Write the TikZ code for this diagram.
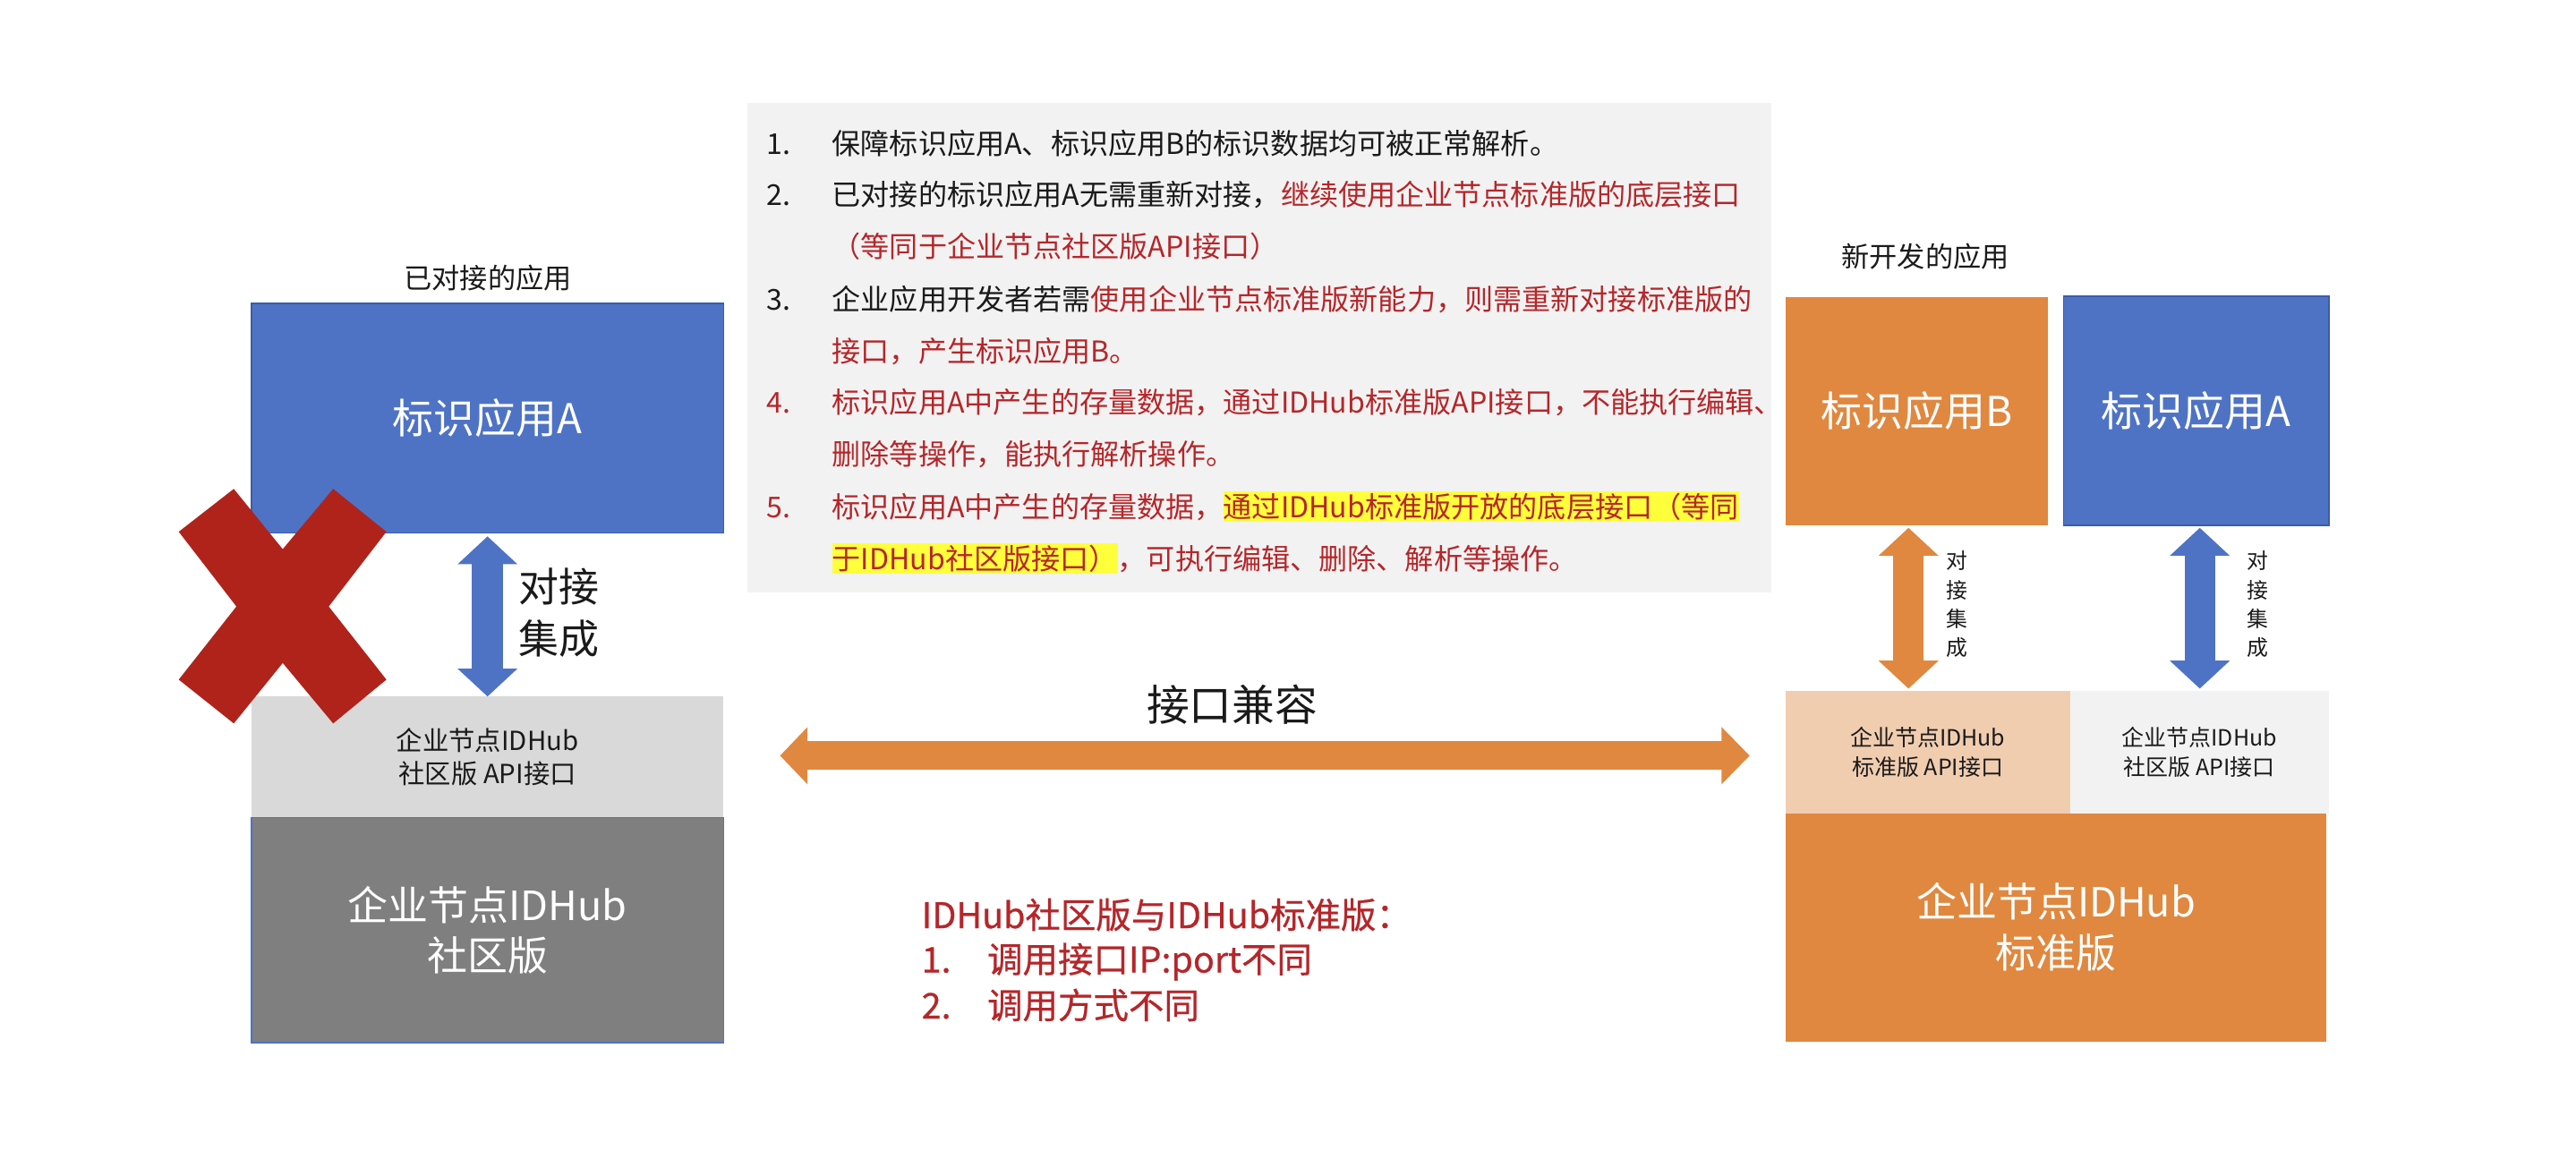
\documentclass[tikz,border=0pt]{standalone}
\usepackage{fontspec}
\setmainfont{Noto Sans CJK SC}
\newfontfamily\semibold[FakeBold=0.6]{Noto Sans CJK SC}
\usetikzlibrary{arrows.meta}
\definecolor{cblue}{HTML}{4F73C4}
\definecolor{cblueb}{HTML}{3A5DA8}
\definecolor{corange}{HTML}{E0883F}
\definecolor{cpeach}{HTML}{F1CDB0}
\definecolor{cgrayL}{HTML}{D9D9D9}
\definecolor{cgrayXL}{HTML}{F2F2F2}
\definecolor{cgrayD}{HTML}{7F7F7F}
\definecolor{cred}{HTML}{B5262A}
\definecolor{cxred}{HTML}{B0231B}
\definecolor{ctext}{HTML}{1A1A1A}
\definecolor{chl}{HTML}{FFFF3C}
\newcommand{\fsz}[2]{\fontsize{#1}{#2}\selectfont}
\begin{document}
\begin{tikzpicture}[x=1pt,y=-1pt,
  every node/.style={inner sep=0pt,outer sep=0pt},
  appbox/.style={text=white,font=\fsz{25}{30}},
  hubbox/.style={text=white,font=\fsz{24.5}{31},align=center},
  apismall/.style={text=ctext,font=\fsz{16}{20.5},align=center},
  apitiny/.style={text=ctext,font=\fsz{13.6}{17.6},align=center},
  vlabel/.style={text=ctext,font=\fsz{13}{17.6},align=center},
  tl/.style={anchor=base west,text=ctext,font=\fsz{17.5}{21}},
  tr/.style={anchor=base west,text=cred,font=\fsz{17.5}{21}},
  hl/.style={anchor=base west,text=cred,font=\fsz{17.5}{21},fill=chl,inner ysep=0.8pt},
  bt/.style={anchor=base west,text=cred,font=\semibold\fsz{21.5}{26}},
  dblv/.style={line width=#1,{Triangle[length=17pt,width=35.5pt]}-{Triangle[length=17pt,width=35.5pt]}},
]
\useasboundingbox (0,0) rectangle (1568,705);
\fill[white] (0,0) rectangle (1568,705);

% ---------- left column ----------
\node[font=\fsz{17}{20},text=ctext] (lblL) at (297,169) {已对接的应用};
\node[appbox,fill=cblue,draw=cblueb,line width=0.8pt,minimum width=287.3pt,minimum height=139.5pt] (A1) at (296.75,254.55) {标识应用A};
\node[apismall,fill=cgrayL,minimum width=287.3pt,minimum height=73.7pt] (apiL) at (296.75,460.85) {企业节点IDHub\\社区版 API接口};
\node[hubbox,fill=cgrayD,draw=cblue,line width=0.8pt,minimum width=287.3pt,minimum height=137.1pt] (hubL) at (296.75,566.25) {企业节点IDHub\\社区版};

\draw[dblv=18.8pt,draw=cblue,fill=cblue,shorten <=2.2pt] (A1.south) -- (apiL.north);
\node[font=\fsz{24.5}{31.4},align=left,text=ctext] (djL) at (340.2,372.9) {对接\\集成};

% red cross
\fill[cxred] (108.8,323.7) -- (142.3,297.6) -- (172.1,334.3) -- (202.8,297.6) -- (235.2,323.7)
  -- (200.1,369.2) -- (235.2,413.7) -- (202.8,440.4) -- (172.1,403.6) -- (142.3,440.4)
  -- (108.8,413.7) -- (143.9,369.2) -- cycle;

% ---------- right column ----------
\node[font=\fsz{17}{20},text=ctext] (lblR) at (1172,156) {新开发的应用};
\node[appbox,fill=corange,minimum width=159.8pt,minimum height=138.7pt] (B) at (1166.9,250.35) {标识应用B};
\node[appbox,fill=cblue,draw=cblueb,line width=0.8pt,minimum width=161.6pt,minimum height=139.4pt] (A2) at (1336.8,250) {标识应用A};
\node[apitiny,fill=cpeach,minimum width=172.9pt,minimum height=74.2pt] (apiS) at (1173.45,457.9) {企业节点IDHub\\标准版 API接口};
\node[apitiny,fill=cgrayXL,minimum width=157.7pt,minimum height=74.2pt] (apiR) at (1338.75,457.9) {企业节点IDHub\\社区版 API接口};
\node[hubbox,fill=corange,minimum width=329pt,minimum height=139pt] (hubR) at (1251.5,564.5) {企业节点IDHub\\标准版};

\draw[dblv=18.4pt,draw=corange,fill=corange,shorten <=1.6pt,shorten >=1.6pt] (B.south -| 1161.7,0) -- (apiS.north -| 1161.7,0);
\draw[dblv=18.4pt,draw=cblue,fill=cblue,shorten <=1.6pt,shorten >=1.6pt] (A2.south -| 1339,0) -- (apiR.north -| 1339,0);
\node[vlabel] (djB) at (1191,367.9) {对\\接\\集\\成};
\node[vlabel] (djA) at (1374.5,367.9) {对\\接\\集\\成};

% ---------- middle ----------
\fill[cgrayXL] (455,62.7) rectangle (1078.2,360.5);
\node[tl] (n1) at (466.7,93.8) {1.};
\node[tl] (t1) at (506.5,93.8) {保障标识应用A、标识应用B的标识数据均可被正常解析。};
\node[tl] (n2) at (466.7,125.3) {2.};
\node[tl] (t2a) at (506.5,125.3) {已对接的标识应用A无需重新对接，};
\node[tr] (t2b) at (t2a.base east) {继续使用企业节点标准版的底层接口};
\node[tr] (t2c) at (506.5,156.4) {（等同于企业节点社区版API接口）};
\node[tl] (n3) at (466.7,188.6) {3.};
\node[tl] (t3a) at (506.5,188.6) {企业应用开发者若需};
\node[tr] (t3b) at (t3a.base east) {使用企业节点标准版新能力，则需重新对接标准版的};
\node[tr] (t3c) at (506.5,220.2) {接口，产生标识应用B。};
\node[tr] (n4) at (466.7,251.3) {4.};
\node[tr] (t4a) at (506.5,251.3) {标识应用A中产生的存量数据，通过IDHub标准版API接口，不能执行编辑、};
\node[tr] (t4b) at (506.5,282.9) {删除等操作，能执行解析操作。};
\node[tr] (n5) at (466.7,315) {5.};
\node[tr] (t5a) at (506.5,315) {标识应用A中产生的存量数据，};
\node[hl] (t5b) at (t5a.base east) {通过IDHub标准版开放的底层接口（等同};
\node[hl] (t5c) at (506.5,346.6) {于IDHub社区版接口）};
\node[tr] (t5d) at (t5c.base east) {，可执行编辑、删除、解析等操作。};

\node[font=\fsz{26}{30},text=ctext] (jk) at (750,429) {接口兼容};
\draw[line width=17.4pt,draw=corange,fill=corange,
  {Triangle[length=16.7pt,width=33.8pt]}-{Triangle[length=17.1pt,width=33.8pt]},
  shorten <=34.4pt,shorten >=22pt] (apiL.east |- 0,460) -- (apiS.west |- 0,460);

\node[bt] (b0) at (561,565) {IDHub社区版与IDHub标准版：};
\node[bt] (b1n) at (561,592) {1.};
\node[bt] (b1) at (601,592) {调用接口IP:port不同};
\node[bt] (b2n) at (561,620) {2.};
\node[bt] (b2) at (601,620) {调用方式不同};
\end{tikzpicture}
\end{document}
